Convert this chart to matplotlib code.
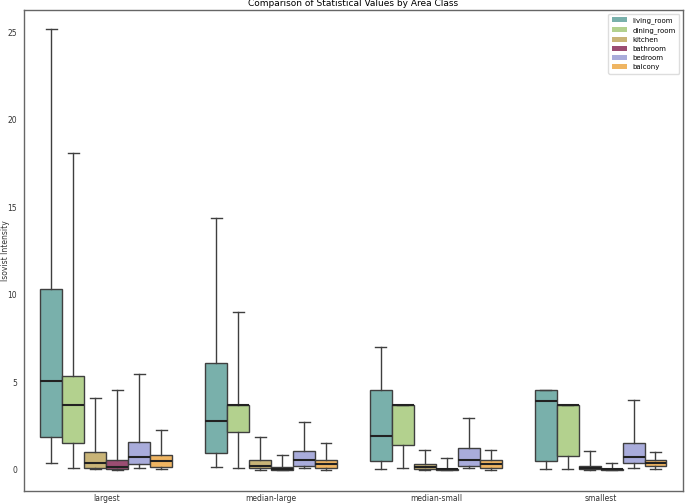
import matplotlib
matplotlib.use("Agg")
import matplotlib.pyplot as plt
from matplotlib.patches import Patch
import numpy as np

# categories
area_classes = ["largest", "median-large", "median-small", "smallest"]
rooms = ["living_room", "dining_room", "kitchen", "bathroom", "bedroom", "balcony"]
room_colors = ["#79b0ab", "#b3d18e", "#c9b477", "#9b4d72", "#a9acdb", "#efb562"]

# box stats, one list per room, one value per area class
# (lower whisker, q1, median, q3, upper whisker)
living_room = [[0.38, 1.85, 5.09, 10.33, 25.2],
               [0.15, 0.95, 2.80, 6.11, 14.4],
               [0.04, 0.48, 1.93, 4.55, 7.03],
               [0.04, 0.48, 3.93, 4.55, 4.55]]
dining_room = [[0.11, 1.54, 3.71, 5.37, 18.1],
               [0.11, 2.13, 3.71, 3.71, 9.01],
               [0.11, 1.43, 3.70, 3.70, 3.70],
               [0.02, 0.76, 3.70, 3.70, 3.70]]
kitchen = [[0.02, 0.11, 0.36, 1.01, 4.08],
           [0.00, 0.08, 0.19, 0.52, 1.89],
           [0.00, 0.02, 0.17, 0.29, 1.14],
           [0.00, 0.02, 0.11, 0.21, 1.05]]
bathroom = [[0.00, 0.04, 0.17, 0.54, 4.53],
            [0.00, 0.00, 0.05, 0.13, 0.86],
            [0.00, 0.00, 0.01, 0.04, 0.65],
            [0.00, 0.00, 0.01, 0.04, 0.38]]
bedroom = [[0.08, 0.29, 0.74, 1.58, 5.49],
           [0.11, 0.23, 0.54, 1.05, 2.71],
           [0.08, 0.21, 0.55, 1.22, 2.92],
           [0.11, 0.36, 0.73, 1.51, 3.98]]
balcony = [[0.02, 0.14, 0.48, 0.86, 2.27],
           [0.00, 0.11, 0.34, 0.54, 1.53],
           [0.00, 0.08, 0.31, 0.52, 1.14],
           [0.02, 0.19, 0.40, 0.52, 0.99]]

room_data = [living_room, dining_room, kitchen, bathroom, bedroom, balcony]

fig, ax = plt.subplots(figsize=(6.85, 5.04), dpi=100)
fig.subplots_adjust(left=0.035, right=0.997, top=0.98, bottom=0.026)

group_width = 0.8
box_w = group_width / len(rooms)
edge = "#3f3f3f"

for r, (name, data, col) in enumerate(zip(rooms, room_data, room_colors)):
    stats = []
    for vals in data:
        lo, q1, med, q3, hi = vals
        stats.append(dict(whislo=lo, q1=q1, med=med, q3=q3, whishi=hi, fliers=[]))
    pos = np.arange(len(area_classes)) - group_width / 2 + box_w * (r + 0.5)
    ax.bxp(stats, positions=pos, widths=box_w, patch_artist=True, showfliers=False,
           manage_ticks=False,
           boxprops=dict(facecolor=col, edgecolor=edge, linewidth=1.0),
           medianprops=dict(color="#222222", linewidth=1.5),
           whiskerprops=dict(color=edge, linewidth=1.0),
           capprops=dict(color=edge, linewidth=1.0))

ax.set_xticks(np.arange(len(area_classes)))
ax.set_xticklabels(area_classes)
ax.set_xlim(-0.5, len(area_classes) - 0.5)
ax.set_ylim(-1.22, 26.27)
ax.set_yticks([0, 5, 10, 15, 20, 25])
ax.tick_params(labelsize=5.5, colors="#333333", length=0)
ax.tick_params(axis="x", pad=2)
ax.tick_params(axis="y", pad=5)
for s in ax.spines.values():
    s.set_color("#666666")
    s.set_linewidth(1.0)

ax.set_ylabel("Isovist Intensity", fontsize=5.5, color="#333333")
ax.yaxis.set_label_coords(-0.021, 0.5)
ax.set_title("Comparison of Statistical Values by Area Class", fontsize=6.5, pad=3)

handles = [Patch(facecolor=c, edgecolor="none", label=n) for n, c in zip(rooms, room_colors)]
ax.legend(handles=handles, loc="upper right", fontsize=5, frameon=True, framealpha=1,
          edgecolor="#dddddd", handlelength=2.2, handleheight=0.6,
          borderpad=0.5, labelspacing=0.45)

fig.savefig("out.png", dpi=100)
